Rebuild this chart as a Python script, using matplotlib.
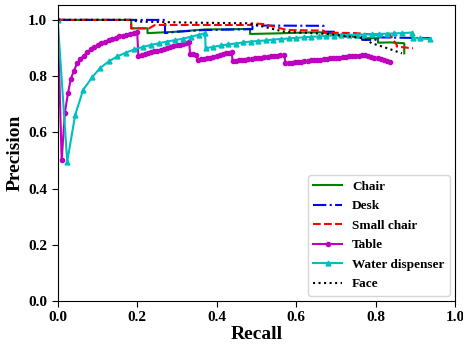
import matplotlib
matplotlib.use("Agg")
import matplotlib.pyplot as plt

plt.rcParams['font.family'] = ['Liberation Serif', 'DejaVu Serif']
plt.rcParams['font.weight'] = 'bold'

# Chair
chair_r = [0.0, 0.185, 0.185, 0.226, 0.226, 0.30, 0.37, 0.44, 0.484, 0.484,
           0.55, 0.62, 0.66, 0.677, 0.72, 0.769, 0.806, 0.806, 0.836, 0.872, 0.872]
chair_p = [1.0, 1.0, 0.97, 0.97, 0.953, 0.958, 0.966, 0.967, 0.968, 0.95,
           0.952, 0.955, 0.956, 0.953, 0.945, 0.935, 0.935, 0.919, 0.92, 0.917, 0.881]

# Desk
desk_r = [0.0, 0.27, 0.27, 0.30, 0.37, 0.49, 0.49, 0.669, 0.669, 0.695,
          0.695, 0.766, 0.766, 0.80, 0.80, 0.94]
desk_p = [1.0, 1.0, 0.953, 0.958, 0.964, 0.967, 0.980, 0.979, 0.958, 0.958,
          0.941, 0.941, 0.929, 0.929, 0.938, 0.935]

# Small chair
small_r = [0.0, 0.185, 0.185, 0.23, 0.245, 0.488, 0.488, 0.52, 0.577, 0.669,
           0.669, 0.75, 0.80, 0.836, 0.853, 0.853, 0.894]
small_p = [1.0, 1.0, 0.97, 0.97, 0.982, 0.982, 0.988, 0.985, 0.964, 0.962,
           0.955, 0.953, 0.947, 0.947, 0.911, 0.905, 0.899]

# Table
table_r = [0.0, 0.010, 0.018, 0.026, 0.033, 0.041, 0.049, 0.057, 0.066, 0.074,
           0.083, 0.092, 0.101, 0.110, 0.119, 0.128, 0.137, 0.146, 0.155, 0.164,
           0.173, 0.182, 0.191, 0.200,
           0.203, 0.211, 0.219, 0.227, 0.235, 0.243, 0.251, 0.259, 0.267, 0.275,
           0.283, 0.291, 0.299, 0.307, 0.315, 0.323, 0.331,
           0.333, 0.341, 0.349, 0.352, 0.360, 0.368, 0.376, 0.384, 0.392, 0.400,
           0.408, 0.416, 0.424, 0.432, 0.438,
           0.440, 0.448, 0.456, 0.464, 0.472, 0.480, 0.488, 0.496, 0.504, 0.512,
           0.520, 0.528, 0.536, 0.544, 0.552, 0.560, 0.570,
           0.573, 0.581, 0.589, 0.597, 0.605, 0.613, 0.621, 0.629, 0.637, 0.645,
           0.653, 0.661, 0.669, 0.677, 0.685, 0.693, 0.701, 0.709, 0.717, 0.725,
           0.733, 0.741, 0.749, 0.757, 0.765, 0.773,
           0.781, 0.789, 0.797, 0.805, 0.813, 0.821, 0.829, 0.836]
table_p = [1.0, 0.50, 0.67, 0.74, 0.79, 0.82, 0.845, 0.86, 0.873, 0.885,
           0.895, 0.903, 0.910, 0.917, 0.923, 0.928, 0.933, 0.937, 0.941, 0.944,
           0.947, 0.950, 0.953, 0.956,
           0.873, 0.876, 0.879, 0.882, 0.885, 0.888, 0.891, 0.894, 0.897, 0.900,
           0.903, 0.906, 0.909, 0.912, 0.915, 0.918, 0.921,
           0.878, 0.877, 0.876, 0.858, 0.860, 0.862, 0.864, 0.866, 0.869, 0.872,
           0.875, 0.878, 0.881, 0.884, 0.887,
           0.853, 0.854, 0.856, 0.857, 0.859, 0.860, 0.862, 0.863, 0.865, 0.866,
           0.868, 0.869, 0.871, 0.872, 0.873, 0.874, 0.876,
           0.846, 0.847, 0.848, 0.850, 0.851, 0.852, 0.853, 0.854, 0.856, 0.857,
           0.858, 0.859, 0.860, 0.862, 0.863, 0.864, 0.865, 0.866, 0.868, 0.869,
           0.870, 0.871, 0.872, 0.873, 0.874, 0.875,
           0.872, 0.869, 0.866, 0.863, 0.860, 0.857, 0.854, 0.851]

# Water dispenser
water_r = [0.0, 0.024, 0.044, 0.064, 0.087, 0.106, 0.129, 0.150, 0.172, 0.193,
           0.214, 0.235, 0.255, 0.275, 0.295, 0.315, 0.335, 0.355, 0.371,
           0.372, 0.391, 0.410, 0.429, 0.448, 0.467, 0.486, 0.505, 0.524, 0.543,
           0.562, 0.581, 0.600, 0.619, 0.638, 0.657, 0.676, 0.695, 0.714, 0.733,
           0.752, 0.771, 0.790, 0.809, 0.828, 0.847, 0.866, 0.891,
           0.893, 0.912, 0.937]
water_p = [1.0, 0.496, 0.662, 0.751, 0.796, 0.828, 0.853, 0.870, 0.884, 0.895,
           0.904, 0.911, 0.917, 0.923, 0.928, 0.933, 0.940, 0.947, 0.953,
           0.899, 0.904, 0.909, 0.913, 0.916, 0.920, 0.923, 0.925, 0.927, 0.930,
           0.932, 0.934, 0.936, 0.938, 0.940, 0.941, 0.943, 0.944, 0.945, 0.946,
           0.947, 0.948, 0.949, 0.950, 0.951, 0.952, 0.953, 0.955,
           0.935, 0.934, 0.932]

# Face
face_r = [0.0, 0.19, 0.20, 0.35, 0.476, 0.50, 0.57, 0.64, 0.677, 0.77,
          0.79, 0.83, 0.866]
face_p = [1.0, 1.0, 0.994, 0.99, 0.988, 0.982, 0.958, 0.953, 0.950, 0.935,
          0.917, 0.899, 0.881]

fig = plt.figure(figsize=(4.63, 3.45), dpi=100)
ax = fig.add_axes([0.1246, 0.1275, 0.8584, 0.858])

ax.plot(chair_r, chair_p, color='g', linestyle='-', linewidth=1.5, label='Chair')
ax.plot(desk_r, desk_p, color='b', linestyle='-.', linewidth=1.5, label='Desk')
ax.plot(small_r, small_p, color='r', linestyle='--', linewidth=1.5, label='Small chair')
ax.plot(table_r, table_p, color='m', linestyle='-', linewidth=1.5, marker='o',
        markersize=3, label='Table')
ax.plot(water_r, water_p, color='c', linestyle='-', linewidth=1.5, marker='^',
        markersize=3.5, label='Water dispenser')
ax.plot(face_r, face_p, color='k', linestyle=':', linewidth=1.5, label='Face')

ax.set_xlim(0, 1.0)
ax.set_ylim(0, 1.053)
ax.set_xticks([0.0, 0.2, 0.4, 0.6, 0.8, 1.0])
ax.set_yticks([0.0, 0.2, 0.4, 0.6, 0.8, 1.0])
ax.tick_params(labelsize=11, direction='out', length=4)
for lab in ax.get_xticklabels() + ax.get_yticklabels():
    lab.set_fontweight('bold')
ax.set_xlabel('Recall', fontsize=14, fontweight='bold', labelpad=1)
ax.set_ylabel('Precision', fontsize=14, fontweight='bold', labelpad=3)

leg = ax.legend(loc='lower right', prop={'weight': 'bold', 'size': 9.5},
                handlelength=2.2, handletextpad=0.75, labelspacing=0.55,
                borderpad=0.4, borderaxespad=0.4)

fig.savefig('out.png', dpi=100)
